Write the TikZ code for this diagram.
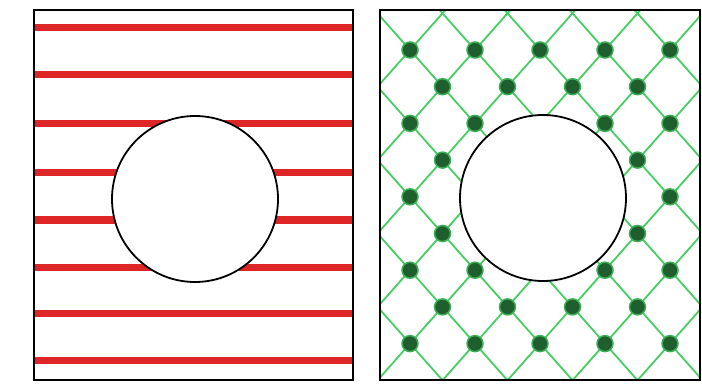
\documentclass[tikz,border=0pt]{standalone}
\usepackage{xcolor}
\usepackage{tikz}
\usetikzlibrary{calc}
\definecolor{stripered}{RGB}{222,38,38}
\definecolor{meshgreen}{RGB}{70,205,100}
\definecolor{knotgreen}{RGB}{30,95,45}

\begin{document}
\begin{tikzpicture}[x=1pt,y=-1pt,
  frame/.style={draw=black,line width=2pt},
  stripe/.style={draw=stripered,line width=7pt},
  net/.style={draw=meshgreen,line width=1.8pt},
  knot/.style={circle,fill=knotgreen,draw=meshgreen!85!black,line width=1.5pt,minimum size=16pt,inner sep=0pt},
  hole/.style={circle,fill=white,draw=black,line width=1.8pt,minimum size=166pt,inner sep=0pt}]
  \useasboundingbox[fill=white] (0,0) rectangle (702,385);
  % striped plate
  \foreach \y in {28,75,124,173,220,267,313,360}
    \draw[stripe] (34,\y) -- (353,\y);
  \node[hole] (holeL) at (195,199) {};
  \draw[frame] (34,10) rectangle (353,380);
  % net plate
  \begin{scope}
    \clip (380,10) rectangle (700,380);
    \foreach \n in {-5,...,5}
      \draw[net] ({410+65*\n-32.5*12},{50-36.7*12}) -- ++({32.5*24},{36.7*24});
    \foreach \n in {-1,...,9}
      \draw[net] ({410+65*\n-32.5*12},{50+36.7*12}) -- ++({32.5*24},{-36.7*24});
  \end{scope}
  \node[hole] (holeR) at (543,198) {};
  \foreach \m in {0,...,8}{
    \pgfmathsetmacro{\yy}{50+36.7*\m}
    \ifodd\m
      \def\xs{442.5,507.5,572.5,637.5}
    \else
      \def\xs{410,475,540,605,670}
    \fi
    \foreach \x [count=\i] in \xs {
      \pgfmathparse{veclen(\x-543,\yy-198)>92 ? 1 : 0}
      \ifnum\pgfmathresult=1
        \node[knot] (k\m\i) at (\x,\yy) {};
      \fi
    }
  }
  \draw[frame] (380,10) rectangle (700,380);
\end{tikzpicture}
\end{document}
